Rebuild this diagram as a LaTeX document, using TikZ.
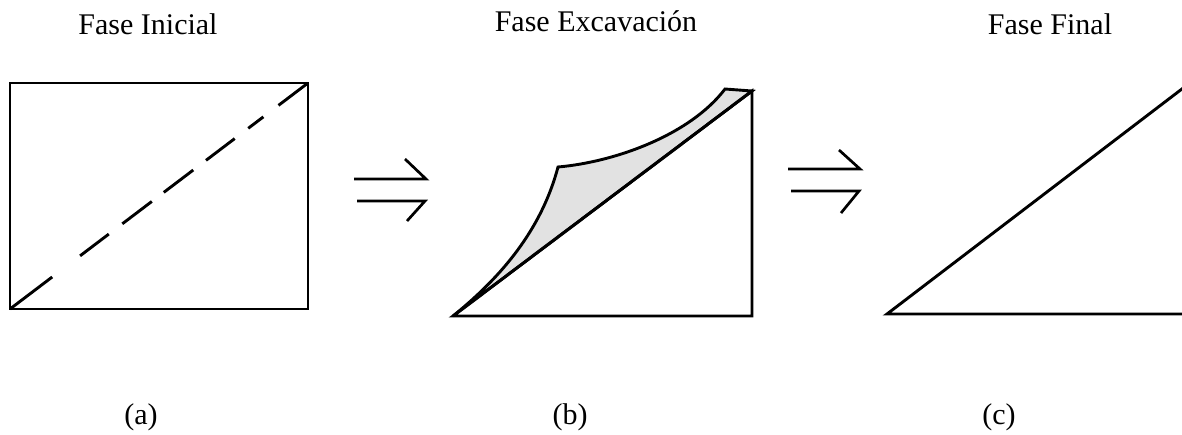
\documentclass[tikz,border=0pt]{standalone}
\usepackage{fontspec}
\setmainfont{Liberation Serif}
\definecolor{shade}{HTML}{E2E2E2}
\begin{document}
\begin{tikzpicture}[x=1pt,y=-1pt,
  edge/.style={line width=2.9pt,line join=miter},
  harp/.style={line width=2.7pt},
  title/.style={anchor=base,inner sep=0pt,font=\fontsize{30}{34}\selectfont},
  tag/.style={anchor=base,inner sep=0pt,font=\fontsize{30}{34}\selectfont}]
\useasboundingbox (0,0) rectangle (1182,434);
\clip (0,0) rectangle (1182,434);
% titles
\node[title] (t1) at (148,34) {Fase Inicial};
\node[title] (t2) at (596,31) {Fase Excavación};
\node[title] (t3) at (1050,34) {Fase Final};
% panel a
\coordinate (a1) at (10,309);
\coordinate (a2) at (308,309);
\coordinate (a3) at (308,83);
\coordinate (a4) at (10,83);
\draw[edge] (a1) -- (a2) -- (a3) -- (a4) -- cycle;
\draw[edge,dash pattern=on 53pt off 35pt on 36pt off 17pt on 37pt off 15pt on 37pt off 16pt on 36pt off 17pt on 19pt off 19pt on 40pt] (a1) -- (a3);
% arrows 1
\coordinate (h1s) at (354,179); \coordinate (h1e) at (426,179); \coordinate (h1b) at (405,159);
\coordinate (h2s) at (357,201); \coordinate (h2e) at (425,201); \coordinate (h2b) at (407,221);
\draw[harp] (h1s) -- (h1e) -- (h1b);
\draw[harp] (h2s) -- (h2e) -- (h2b);
% panel b
\coordinate (b1) at (453,316);
\coordinate (b2) at (752,316);
\coordinate (b3) at (752,91);
\coordinate (bp) at (558,167);
\coordinate (bq) at (725,89);
\draw[edge,fill=shade] (b1) .. controls (495,282) and (540,235) .. (bp)
  .. controls (615,162) and (690,135) .. (bq) -- (b3) -- cycle;
\draw[edge] (b1) -- (b2) -- (b3) -- cycle;
% arrows 2
\coordinate (h3s) at (788,169); \coordinate (h3e) at (860,169); \coordinate (h3b) at (839,150);
\coordinate (h4s) at (791,191); \coordinate (h4e) at (859,191); \coordinate (h4b) at (841,213);
\draw[harp] (h3s) -- (h3e) -- (h3b);
\draw[harp] (h4s) -- (h4e) -- (h4b);
% panel c
\coordinate (c1) at (887,314);
\coordinate (c2) at (1195,314);
\coordinate (c3) at (1195,79);
\draw[edge] (c1) -- (c2) -- (c3) -- cycle;
% labels
\node[tag] (la) at (141,424) {(a)};
\node[tag] (lb) at (570,424) {(b)};
\node[tag] (lc) at (999,424) {(c)};
\end{tikzpicture}
\end{document}
